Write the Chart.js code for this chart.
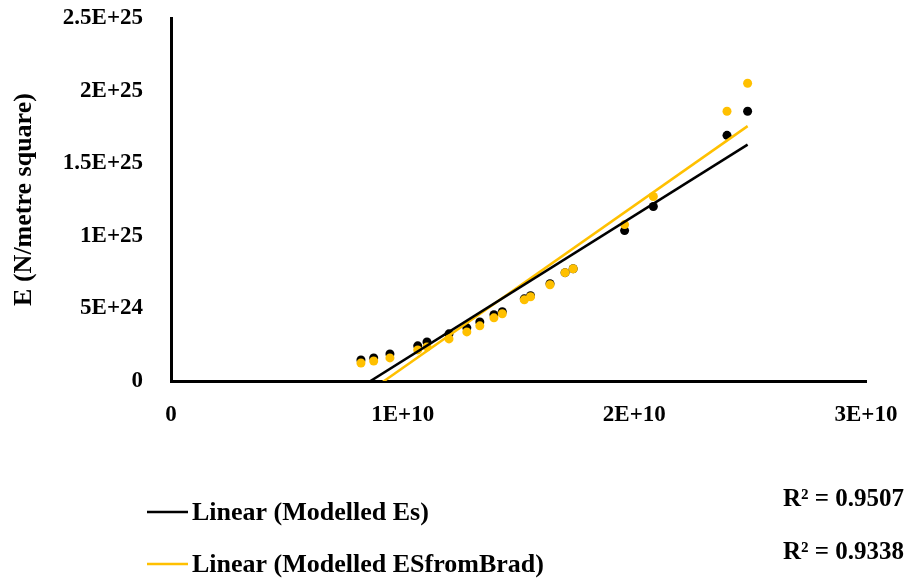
<!DOCTYPE html>
<html>
<head>
<meta charset="utf-8">
<script src="https://cdn.jsdelivr.net/npm/chart.js@4.4.1/dist/chart.umd.min.js"></script>
<style>
  html, body { margin: 0; padding: 0; background: #fff; }
  canvas { display: block; }
</style>
</head>
<body>
<canvas id="myChart" width="920" height="584"></canvas>
<script>
// x values shared by both series
const xValues = [0.82e10, 0.875e10, 0.945e10, 1.065e10, 1.105e10, 1.2e10, 1.277e10, 1.333e10, 1.394e10, 1.43e10,
                 1.525e10, 1.552e10, 1.636e10, 1.701e10, 1.736e10, 1.958e10, 2.082e10, 2.4e10, 2.489e10];
// E values (N/metre square)
const modelledEs = [0.145e25, 0.159e25, 0.186e25, 0.242e25, 0.269e25, 0.325e25, 0.366e25, 0.407e25, 0.456e25, 0.477e25,
                    0.566e25, 0.587e25, 0.670e25, 0.746e25, 0.773e25, 1.036e25, 1.202e25, 1.692e25, 1.858e25];
const modelledEsFromBrad = [0.124e25, 0.138e25, 0.159e25, 0.214e25, 0.235e25, 0.290e25, 0.338e25, 0.380e25, 0.435e25, 0.463e25,
                            0.559e25, 0.580e25, 0.663e25, 0.746e25, 0.773e25, 1.077e25, 1.271e25, 1.858e25, 2.051e25];
const seriesNames = ['Modelled Es', 'Modelled ESfromBrad'];
const seriesColors = ['#000000', '#FFC000'];
const rSquared = ['0.9507', '0.9338'];

const xTicks = [0, 1e10, 2e10, 3e10];
const yTicks = [0, 5e24, 1e25, 1.5e25, 2e25, 2.5e25];

const fontFamily = "'Liberation Serif', 'Times New Roman', serif";

function toPoints(xs, ys) {
    return xs.map((x, i) => ({ x: x, y: ys[i] }));
}

// least squares line over the data range
function linearTrend(xs, ys) {
    const n = xs.length;
    const mx = xs.reduce((a, b) => a + b, 0) / n;
    const my = ys.reduce((a, b) => a + b, 0) / n;
    let sxy = 0, sxx = 0;
    for (let i = 0; i < n; i++) {
        sxy += (xs[i] - mx) * (ys[i] - my);
        sxx += (xs[i] - mx) * (xs[i] - mx);
    }
    const slope = sxy / sxx;
    const b = my - slope * mx;
    const x0 = Math.min(...xs), x1 = Math.max(...xs);
    return [{ x: x0, y: slope * x0 + b }, { x: x1, y: slope * x1 + b }];
}

// Excel style "General" number format: 0, 5E+24, 1.5E+25 ...
function general(v) {
    if (v === 0) return '0';
    const e = Math.floor(Math.log10(v) + 1e-9);
    const m = +(v / Math.pow(10, e)).toFixed(2);
    return m + 'E+' + e;
}

const allY = [modelledEs, modelledEsFromBrad];

const datasets = [];
seriesNames.forEach((name, i) => {
    datasets.push({
        label: name,
        data: toPoints(xValues, allY[i]),
        backgroundColor: seriesColors[i],
        borderColor: seriesColors[i],
        pointRadius: 4.5,
        pointBorderWidth: 0,
        order: 2 - i
    });
});
seriesNames.forEach((name, i) => {
    datasets.push({
        label: 'Linear (' + name + ')',
        data: linearTrend(xValues, allY[i]),
        showLine: true,
        borderColor: seriesColors[i],
        borderWidth: 2.5,
        pointRadius: 0,
        order: 0,
        isTrend: true
    });
});

// legend for the trend lines plus the R² texts under the plot
const trendLegend = {
    id: 'trendLegend',
    afterDraw(chart) {
        const ctx = chart.ctx;
        ctx.save();
        ctx.textBaseline = 'middle';
        const rows = [512, 564];
        const trends = chart.data.datasets.filter(d => d.isTrend);
        trends.forEach((d, i) => {
            ctx.strokeStyle = d.borderColor;
            ctx.lineWidth = 2.5;
            ctx.beginPath();
            ctx.moveTo(147, rows[i]);
            ctx.lineTo(188, rows[i]);
            ctx.stroke();
            ctx.fillStyle = '#000';
            ctx.font = 'bold 26px ' + fontFamily;
            ctx.textAlign = 'left';
            ctx.fillText(d.label, 192, rows[i] + 1);
        });
        const rRows = [500, 553];
        ctx.font = 'bold 25px ' + fontFamily;
        ctx.textAlign = 'right';
        rSquared.forEach((r, i) => {
            ctx.fillText('R\u00B2 = ' + r, 904, rRows[i]);
        });
        ctx.restore();
    }
};

const config = {
    type: 'scatter',
    data: { datasets },
    options: {
        responsive: false,
        animation: false,
        layout: { padding: { top: 18, right: 54, left: 0, bottom: 0 } },
        plugins: {
            legend: { display: false },
            tooltip: { enabled: false }
        },
        scales: {
            x: {
                type: 'linear',
                min: xTicks[0],
                max: xTicks[xTicks.length - 1],
                afterBuildTicks: axis => { axis.ticks = xTicks.map(v => ({ value: v })); },
                ticks: {
                    callback: v => general(v),
                    color: '#000',
                    font: { family: fontFamily, size: 23, weight: 'bold' },
                    padding: 20,
                    maxRotation: 0
                },
                grid: { display: false, drawTicks: false },
                border: { display: true, color: '#000', width: 3 },
                afterFit: axis => { axis.height = 203; }
            },
            y: {
                type: 'linear',
                min: yTicks[0],
                max: yTicks[yTicks.length - 1],
                afterBuildTicks: axis => { axis.ticks = yTicks.map(v => ({ value: v })); },
                ticks: {
                    callback: v => general(v),
                    color: '#000',
                    font: { family: fontFamily, size: 23, weight: 'bold' },
                    padding: 28
                },
                title: {
                    display: true,
                    text: 'E (N/metre square)',
                    color: '#000',
                    font: { family: fontFamily, size: 26, weight: 'bold' },
                    padding: { top: 9, bottom: 0 }
                },
                grid: { display: false, drawTicks: false },
                border: { display: true, color: '#000', width: 3 },
                afterFit: axis => {
                    axis.width = 171;
                    // only half a label of room is needed above and below
                    axis.paddingTop = 14;
                    axis.paddingBottom = 14;
                }
            }
        }
    },
    plugins: [trendLegend]
};

const myChart = new Chart(document.getElementById('myChart'), config);
</script>
</body>
</html>
